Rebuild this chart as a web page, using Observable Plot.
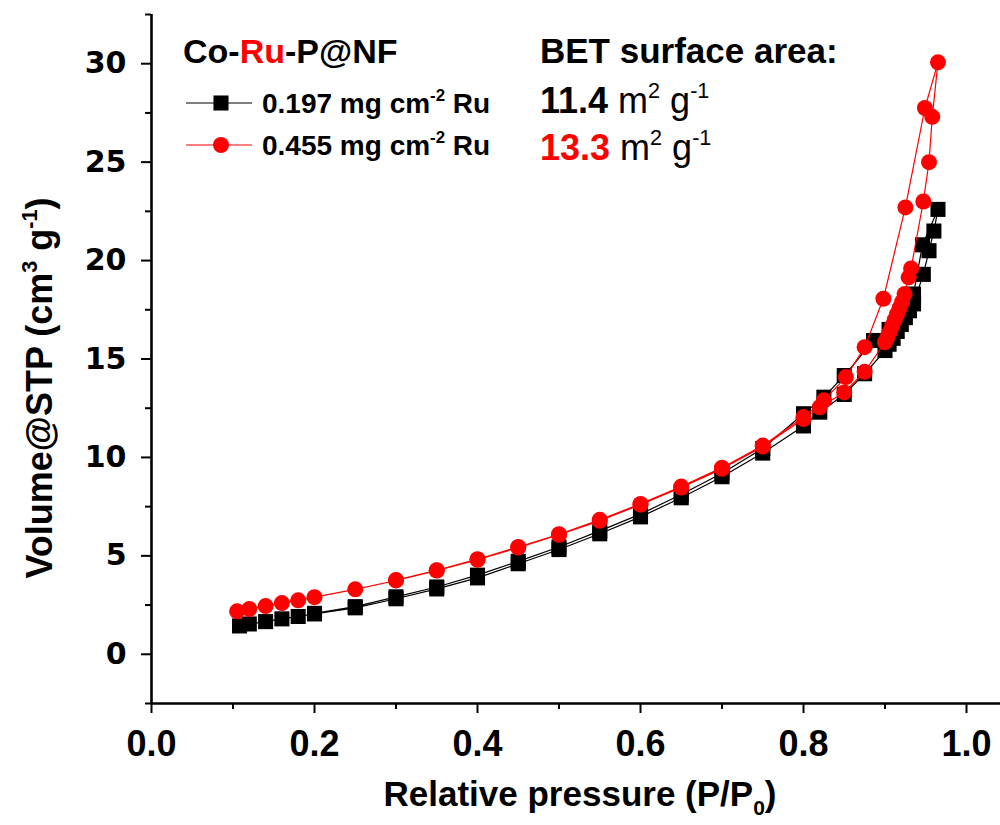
<!DOCTYPE html>
<html><head><meta charset="utf-8">
<script src="https://cdn.jsdelivr.net/npm/d3@7"></script>
<script src="https://cdn.jsdelivr.net/npm/@observablehq/plot@0.6"></script>
<style>
body{margin:0;background:#fff}
#chart svg{display:block}
</style></head><body><div id="chart"></div>
<script>
// Sample 1: 0.197 mg cm-2 Ru (black squares) — adsorption then desorption
const blackP = [0.108,0.12,0.14,0.16,0.18,0.2,0.25,0.3,0.35,0.4,0.45,0.5,0.55,0.6,0.65,0.7,0.75,0.8,0.82,0.85,0.875,0.9,0.905,0.91,0.915,0.92,0.925,0.93,0.935,0.947,0.954,0.96,0.965,
  0.946,0.935,0.925,0.915,0.905,0.886,0.85,0.825,0.8,0.75,0.7,0.65,0.6,0.55,0.5,0.45,0.4,0.35,0.3,0.25,0.2];
const blackV = [1.44,1.54,1.66,1.8,1.92,2.05,2.36,2.82,3.32,3.88,4.6,5.32,6.12,6.98,7.95,9.02,10.22,11.6,12.3,13.2,14.25,15.43,15.75,16.05,16.4,16.75,17.1,17.45,17.8,19.3,20.5,21.5,22.6,
  20.8,18.3,17.6,17.0,16.5,15.94,14.16,13.06,12.22,10.45,9.2,8.12,7.12,6.27,5.45,4.72,4.02,3.42,2.92,2.42,2.08];
// Sample 2: 0.455 mg cm-2 Ru (red circles) — adsorption then desorption
const redP = [0.105,0.12,0.14,0.16,0.18,0.2,0.25,0.3,0.35,0.4,0.45,0.5,0.55,0.6,0.65,0.7,0.75,0.8,0.82,0.85,0.875,0.9,0.903,0.906,0.909,0.912,0.915,0.918,0.921,0.924,0.929,0.932,0.947,0.954,0.958,0.965,
  0.949,0.925,0.898,0.875,0.852,0.825,0.8,0.75,0.7,0.65,0.6,0.55,0.5,0.45,0.4,0.35,0.3];
const redV = [2.18,2.3,2.45,2.6,2.74,2.9,3.3,3.75,4.25,4.8,5.42,6.07,6.78,7.6,8.47,9.42,10.55,11.95,12.55,13.3,14.35,15.85,16.1,16.4,16.7,17.0,17.3,17.6,17.9,18.3,19.15,19.6,23.0,25.0,27.3,30.07,
  27.75,22.7,18.06,15.6,14.08,12.9,12.05,10.6,9.48,8.52,7.64,6.83,6.1,5.45,4.83,4.27,3.77];

const xMajor = [0,0.2,0.4,0.6,0.8,1.0];
const xMinor = [0.1,0.3,0.5,0.7,0.9];
const yMajor = [0,5,10,15,20,25,30];
const yMinor = [-2.5,2.5,7.5,12.5,17.5,22.5,27.5,32.5];

const black = blackP.map((p,i)=>({p, v: blackV[i]}));
const red = redP.map((p,i)=>({p, v: redV[i]}));

const FONT = "'Liberation Sans', Arial, sans-serif";

const chart = Plot.plot({
  width: 1000, height: 825,
  marginLeft: 151, marginRight: 0, marginTop: 14, marginBottom: 122,
  style: {fontFamily: FONT, background: "#fff", color: "#000"},
  x: {domain: [0, 849/815]},
  y: {domain: [-2.5, 32.5]},
  marks: [
    Plot.axisX({ticks: xMinor, tickSize: 6, tickFormat: () => "", label: null, strokeWidth: 2}),
    Plot.axisX({ticks: xMajor, tickSize: 10, tickPadding: 17, tickFormat: d3.format(".1f"), label: null, strokeWidth: 2,
      fontSize: 36, fontWeight: "bold", fontFamily: FONT}),
    Plot.axisY({ticks: yMinor, tickSize: 6, tickFormat: () => "", label: null, strokeWidth: 2}),
    Plot.axisY({ticks: yMajor, tickSize: 10, tickPadding: 15, tickFormat: d3.format("d"), label: null, strokeWidth: 2,
      fontSize: 30, fontWeight: "bold", fontFamily: "'DejaVu Sans', sans-serif"}),
    Plot.ruleX([0], {stroke: "#000", strokeWidth: 2.6}),
    Plot.ruleY([-2.5], {stroke: "#000", strokeWidth: 2.6}),
    Plot.line(black, {x: "p", y: "v", stroke: "#000", strokeWidth: 1.2}),
    Plot.dot(black, {x: "p", y: "v", symbol: "square", r: 8.5, fill: "#000", stroke: "none"}),
    Plot.line(red, {x: "p", y: "v", stroke: "#ff0000", strokeWidth: 1.2}),
    Plot.dot(red, {x: "p", y: "v", symbol: "circle", r: 8, fill: "#ff0000", stroke: "none"})
  ]
});
document.getElementById("chart").appendChild(chart);

const svg = d3.select(chart);
function rich(parent, x, y, size, parts, anchor) {
  const t = parent.append("text").attr("x", x).attr("y", y)
    .attr("font-size", size).attr("font-family", FONT).attr("fill", "#000")
    .attr("text-anchor", anchor || "start");
  let shift = 0;
  for (const p of parts) {
    const target = p.sup ? -size * 0.42 : p.sub ? size * 0.26 : 0;
    const ts = t.append("tspan").attr("dy", target - shift).text(p.t);
    shift = target;
    if (p.sup || p.sub) ts.attr("font-size", size * 0.6);
    if (p.color) ts.attr("fill", p.color);
    if (p.bold) ts.attr("font-weight", "bold");
  }
  return t;
}

// axis titles
rich(svg, 580, 806, 35, [{t: "Relative pressure (P/P", bold: true}, {t: "0", sub: true, bold: true}, {t: ")", bold: true}], "middle");
const yl = svg.append("g").attr("transform", "translate(52,388) rotate(-90)");
rich(yl, 0, 0, 36, [{t: "Volume@STP (cm", bold: true}, {t: "3", sup: true, bold: true}, {t: " g", bold: true}, {t: "-1", sup: true, bold: true}, {t: ")", bold: true}], "middle");

// legend
rich(svg, 183, 63, 34, [{t: "Co-", bold: true}, {t: "Ru", bold: true, color: "#ff0000"}, {t: "-P@NF", bold: true}]);
rich(svg, 540, 63, 35, [{t: "BET surface area:", bold: true}]);
const leg = [{y: 103, color: "#000", sym: d3.symbolSquare, r: 8.5, label: "0.197"},
             {y: 145, color: "#ff0000", sym: d3.symbolCircle, r: 8, label: "0.455"}];
for (const L of leg) {
  svg.append("line").attr("x1", 186).attr("x2", 252).attr("y1", L.y).attr("y2", L.y)
    .attr("stroke", L.color).attr("stroke-width", 1.2);
  svg.append("path").attr("transform", `translate(221,${L.y})`)
    .attr("d", d3.symbol(L.sym, L.r * L.r * Math.PI)()).attr("fill", L.color);
  rich(svg, 262, L.y + 10, 28, [{t: L.label + " mg cm", bold: true}, {t: "-2", sup: true, bold: true}, {t: " Ru", bold: true}]);
}
rich(svg, 540, 113, 36, [{t: "11.4", bold: true}, {t: " m"}, {t: "2", sup: true}, {t: " g"}, {t: "-1", sup: true}]);
rich(svg, 540, 160, 36, [{t: "13.3", bold: true, color: "#ff0000"}, {t: " m"}, {t: "2", sup: true}, {t: " g"}, {t: "-1", sup: true}]);
</script></body></html>
